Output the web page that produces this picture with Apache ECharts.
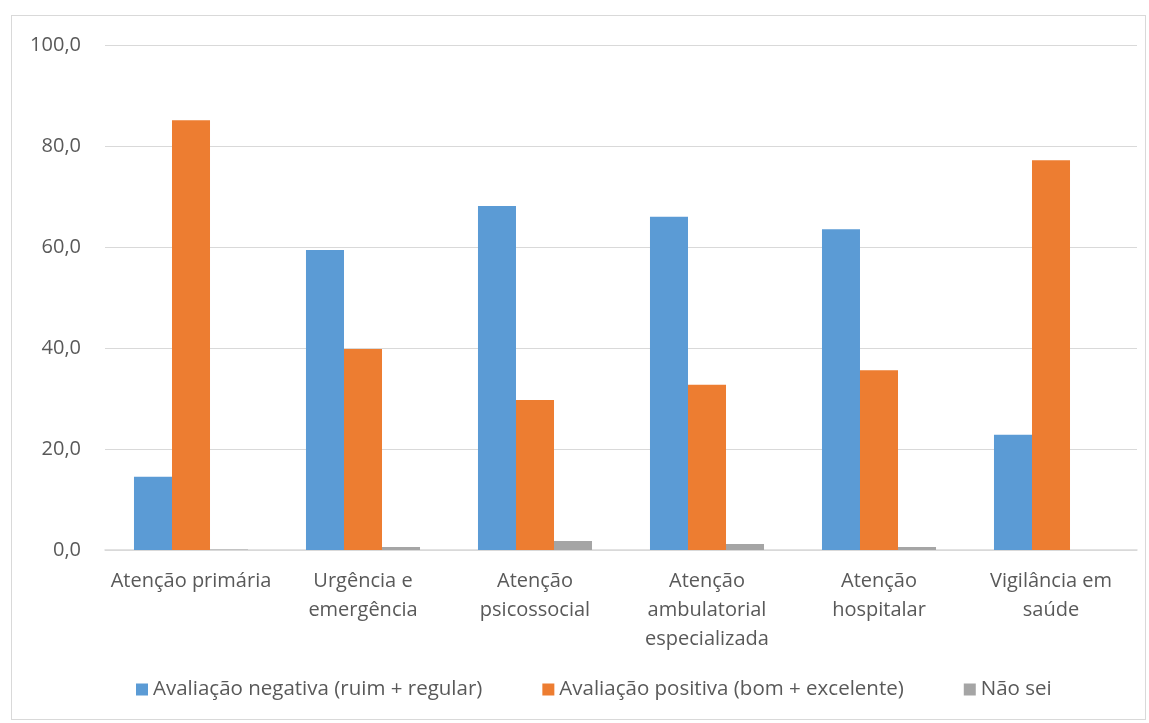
<!DOCTYPE html>
<html>
<head>
<meta charset="utf-8">
<script src="https://cdn.jsdelivr.net/npm/echarts@6/dist/echarts.min.js"></script>
<style>
  html, body { margin: 0; padding: 0; background: #fff; }
  #frame { position: absolute; left: 11px; top: 15px; width: 1135px; height: 705px; border: 1px solid #d9d9d9; box-sizing: border-box; }
  #chart { width: 1149px; height: 723px; }
</style>
</head>
<body>
<div id="frame"></div>
<div id="chart"></div>
<script>
const categories = ['Atenção primária', 'Urgência e\nemergência', 'Atenção\npsicossocial', 'Atenção\nambulatorial\nespecializada', 'Atenção\nhospitalar', 'Vigilância em\nsaúde'];
const negativa = [14.5, 59.4, 68.1, 66.0, 63.5, 22.8];
const positiva = [85.1, 39.8, 29.7, 32.7, 35.6, 77.2];
const naoSei = [0.1, 0.6, 1.8, 1.2, 0.6, 0.0];
const seriesNames = ['Avaliação negativa (ruim + regular)', 'Avaliação positiva (bom + excelente)', 'Não sei'];
const colors = ['#5b9bd5', '#ed7d31', '#a5a5a5'];

const font = '"Open Sans", "Liberation Sans", sans-serif';
const chart = echarts.init(document.getElementById('chart'));

chart.setOption({
  animation: false,
  color: colors,
  textStyle: { fontFamily: font },
  grid: { left: 105, right: 12, top: 45, bottom: 173, containLabel: false },
  legend: {
    bottom: 18,
    left: 131,
    itemWidth: 12,
    itemHeight: 12,
    itemGap: 60,
    icon: 'rect',
    textStyle: { fontSize: 20.5, color: '#595959', fontFamily: font },
    data: seriesNames
  },
  xAxis: {
    type: 'category',
    data: categories,
    axisLine: { lineStyle: { color: '#d9d9d9', width: 1.5 } },
    axisTick: { show: false },
    axisLabel: { color: '#595959', fontSize: 20, lineHeight: 29, margin: 17, interval: 0 }
  },
  yAxis: {
    type: 'value',
    min: 0, max: 100, interval: 20,
    axisLine: { show: false },
    axisTick: { show: false },
    splitLine: { lineStyle: { color: '#d9d9d9', width: 1 } },
    axisLabel: { color: '#595959', fontSize: 20, margin: 24, formatter: v => v.toFixed(1).replace('.', ',') }
  },
  series: [
    { name: seriesNames[0], type: 'bar', data: negativa, barGap: '0%', barCategoryGap: '33.7%' },
    { name: seriesNames[1], type: 'bar', data: positiva, barGap: '0%', barCategoryGap: '33.7%' },
    { name: seriesNames[2], type: 'bar', data: naoSei, barGap: '0%', barCategoryGap: '33.7%' }
  ]
});
</script>
</body>
</html>
